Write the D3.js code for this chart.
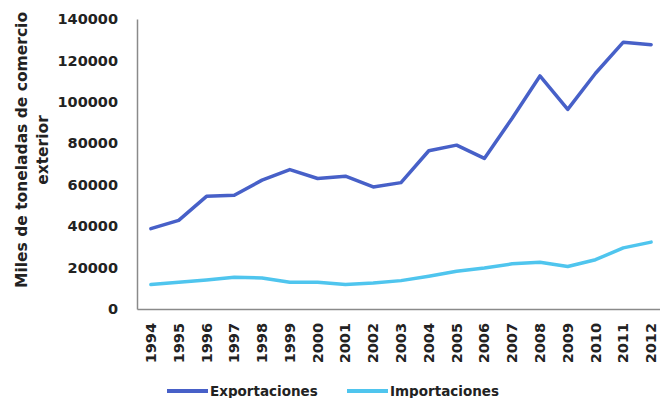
<!DOCTYPE html>
<html>
<head>
<meta charset="utf-8">
<script src="https://cdn.jsdelivr.net/npm/d3@7"></script>
<style>
  body { margin: 0; background: #fff; }
  text { font-family: "DejaVu Sans", sans-serif; fill: #222; }
</style>
</head>
<body>
<div id="chart"></div>
<script>
// years on the x axis
const years = ["1994","1995","1996","1997","1998","1999","2000","2001","2002","2003",
               "2004","2005","2006","2007","2008","2009","2010","2011","2012"];

// miles de toneladas
const exportaciones = [38800, 42800, 54400, 54900, 62200, 67300, 63000, 64100, 58900, 61000,
                       76400, 79100, 72700, 92100, 112500, 96400, 113800, 128800, 127600];
const importaciones = [11800, 12900, 14000, 15300, 15000, 12900, 12900, 11800, 12600, 13700,
                       15800, 18200, 19800, 21800, 22600, 20500, 23800, 29500, 32300];

const yTicks = [0, 20000, 40000, 60000, 80000, 100000, 120000, 140000];

const seriesNames = ["Exportaciones", "Importaciones"];
const seriesColors = ["#4760c8", "#4fc5ee"];

const width = 660, height = 398;
const margin = {top: 19, left: 137, bottom: 89};
const plotW = 528;   // runs a little past the right edge
const plotH = height - margin.top - margin.bottom;

const svg = d3.select("#chart").append("svg")
    .attr("width", width)
    .attr("height", height);

const x = d3.scaleBand().domain(years).range([margin.left, margin.left + plotW]);
const y = d3.scaleLinear().domain([0, 140000]).range([margin.top + plotH, margin.top]);

// y axis
const yAxis = svg.append("g")
    .attr("transform", `translate(${margin.left},0)`)
    .call(d3.axisLeft(y).tickValues(yTicks).tickSize(0).tickSizeOuter(0).tickPadding(19)
        .tickFormat(d3.format("d")));
yAxis.select(".domain").attr("stroke", "#8a8a8a").attr("stroke-width", 1.5);
yAxis.selectAll("text")
    .style("font-size", "14.5px")
    .style("font-weight", "bold")
    .style("fill", "#222");

// x axis
const xAxis = svg.append("g")
    .attr("transform", `translate(0,${margin.top + plotH})`)
    .call(d3.axisBottom(x).tickSize(0).tickSizeOuter(0).tickPadding(0));
xAxis.select(".domain").attr("stroke", "#8a8a8a").attr("stroke-width", 1.5);
xAxis.selectAll("text")
    .attr("transform", "rotate(-90)")
    .attr("text-anchor", "end")
    .attr("x", -14)
    .attr("y", 0)
    .attr("dy", "0.35em")
    .style("font-size", "14.5px")
    .style("font-weight", "bold")
    .style("fill", "#222");

// y title, two lines
const title = svg.append("text")
    .attr("transform", "translate(22,150) rotate(-90)")
    .attr("text-anchor", "middle")
    .style("font-size", "15.5px")
    .style("font-weight", "bold");
title.append("tspan").attr("x", 0).attr("dy", "0.35em").text("Miles de toneladas de comercio");
title.append("tspan").attr("x", 0).attr("dy", "1.3em").text("exterior");

// lines
const line = d3.line()
    .x((d, i) => x(years[i]) + x.bandwidth() / 2)
    .y(d => y(d));

[exportaciones, importaciones].forEach((s, k) => {
    svg.append("path")
        .datum(s)
        .attr("fill", "none")
        .attr("stroke", seriesColors[k])
        .attr("stroke-width", 3.5)
        .attr("stroke-linejoin", "round")
        .attr("stroke-linecap", "round")
        .attr("d", line);
});

// legend
const legendX = [167, 347];
const legend = svg.append("g");
seriesNames.forEach((name, k) => {
    legend.append("line")
        .attr("x1", legendX[k]).attr("x2", legendX[k] + 41)
        .attr("y1", 391).attr("y2", 391)
        .attr("stroke", seriesColors[k])
        .attr("stroke-width", 4);
    legend.append("text")
        .attr("x", legendX[k] + 43)
        .attr("y", 391)
        .attr("dy", "0.35em")
        .style("font-size", "13.5px")
        .style("font-weight", "bold")
        .text(name);
});
</script>
</body>
</html>
